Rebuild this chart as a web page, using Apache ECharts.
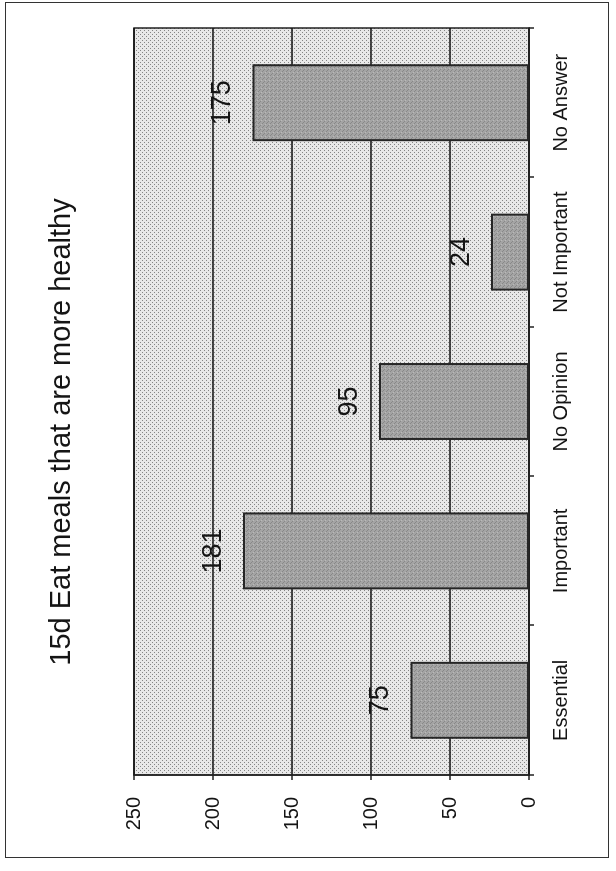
<!DOCTYPE html>
<html>
<head>
<meta charset="utf-8">
<script src="https://cdn.jsdelivr.net/npm/echarts@6/dist/echarts.min.js"></script>
<style>
  html, body { margin:0; padding:0; background:#fff; width:616px; height:871px; overflow:hidden; }
  #rot { position:absolute; left:0; top:0; width:871px; height:616px; transform-origin:0 0; transform: translate(0px, 871px) rotate(-90deg); background:#fff; }
  #frame { position:absolute; left:13px; top:5px; width:856px; height:604px; border:1.5px solid #333; box-sizing:border-box; }
  #chart { position:absolute; left:0; top:0; width:871px; height:616px; }
</style>
</head>
<body>
<div id="rot">
  <div id="frame"></div>
  <div id="chart"></div>
</div>
<script>
const titleText = '15d Eat meals that are more healthy';
const categories = ['Essential', 'Important', 'No Opinion', 'Not Important', 'No Answer'];
const values = [75, 181, 95, 24, 175];
const valueTicks = [0, 50, 100, 150, 200, 250];

const FONT = '"Liberation Sans", Arial, Helvetica, sans-serif';

function dotPattern() {
  const c = document.createElement('canvas');
  c.width = 4; c.height = 4;
  const g = c.getContext('2d');
  g.fillStyle = '#e8e8e8'; g.fillRect(0, 0, 4, 4);
  g.fillStyle = '#858585';
  g.fillRect(0, 0, 1, 1);
  g.fillRect(2, 2, 1, 1);
  return c;
}
function barPattern() {
  const c = document.createElement('canvas');
  c.width = 4; c.height = 4;
  const g = c.getContext('2d');
  g.fillStyle = '#a4a4a4'; g.fillRect(0, 0, 4, 4);
  g.fillStyle = '#888888';
  g.fillRect(1, 0, 1, 1);
  g.fillRect(3, 2, 1, 1);
  g.fillRect(0, 3, 1, 1);
  g.fillStyle = '#bababa';
  g.fillRect(2, 1, 1, 1);
  return c;
}

const chart = echarts.init(document.getElementById('chart'), null, { renderer: 'canvas' });
chart.setOption({
  animation: false,
  backgroundColor: 'transparent',
  textStyle: { fontFamily: FONT },
  graphic: [{
    type: 'text', x: 439, y: 62,
    style: { text: titleText, fontSize: 29, fontFamily: FONT, fill: '#151515', align: 'center', verticalAlign: 'middle' }
  }],
  grid: {
    left: 96, right: 28, top: 134, bottom: 87,
    show: true,
    backgroundColor: { image: dotPattern(), repeat: 'repeat' },
    borderColor: '#222', borderWidth: 1.5
  },
  xAxis: {
    type: 'category',
    data: categories,
    axisLine: { show: true, lineStyle: { color: '#222', width: 1.5 } },
    axisTick: { show: true, length: 5, lineStyle: { color: '#222', width: 1.5 } },
    axisLabel: { fontSize: 20, color: '#151515', margin: 22, fontFamily: FONT, interval: 0 },
    splitLine: { show: false }
  },
  yAxis: {
    type: 'value',
    min: valueTicks[0], max: valueTicks[valueTicks.length - 1], interval: valueTicks[1] - valueTicks[0],
    axisLine: { show: true, lineStyle: { color: '#222', width: 1.5 } },
    axisTick: { show: true, length: 5, lineStyle: { color: '#222', width: 1.5 } },
    axisLabel: { fontSize: 20, color: '#151515', margin: 22, fontFamily: FONT },
    splitLine: { show: true, lineStyle: { color: '#111', width: 1.5 } }
  },
  series: [{
    type: 'bar',
    data: values,
    barWidth: '51.5%',
    itemStyle: { color: { image: barPattern(), repeat: 'repeat' }, borderColor: '#262626', borderWidth: 2 },
    label: { show: true, position: 'top', distance: 16, fontSize: 27, color: '#151515', fontFamily: FONT }
  }]
});
</script>
</body>
</html>
